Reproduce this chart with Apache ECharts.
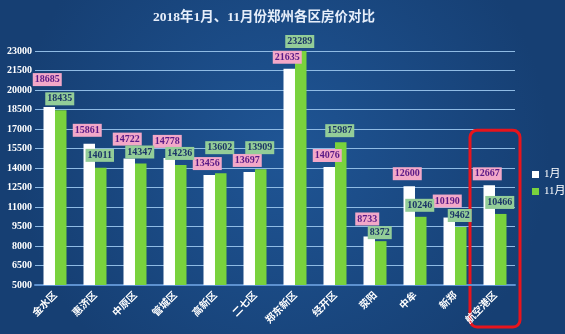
<!DOCTYPE html>
<html>
<head>
<meta charset="utf-8">
<script src="https://cdn.jsdelivr.net/npm/echarts@6/dist/echarts.min.js"></script>
<style>html,body{margin:0;padding:0;}#c{width:565px;height:334px;}</style>
</head>
<body>
<div id="c"></div>
<script>
const categories = ['金水区','惠济区','中原区','管城区','高新区','二七区','郑东新区','经开区','荥阳','中牟','新郑','航空港区'];
const jan = [18685,15861,14722,14778,13456,13697,21635,14076,8733,12600,10190,12667];
const nov = [18435,14011,14347,14236,13602,13909,23289,15987,8372,10246,9462,10466];
const yTicks = {min:5000, max:23000, step:1500};
// extra label lift (style only, px) to reproduce the reference's staggered labels
const janLift = [16,2,8,5,0,0,0,0,6,1,5,0];
const novLift = [0,1,0,0,14,10,-2,0,-3,0,0,0];

const chart = echarts.init(document.getElementById('c'));
const serif = "'Liberation Serif','DejaVu Serif','Noto Sans CJK SC',serif";
function mk(vals, lifts, dx){
  return vals.map((v,i)=>({value:v, label:{offset:[dx,-lifts[i]]}}));
}
chart.setOption({
  backgroundColor: {type:'radial', x:0.5, y:0.45, r:0.8,
    colorStops:[{offset:0,color:'#1f5595'},{offset:1,color:'#163f73'}]},
  animation:false,
  title:{text:'2018年1月、11月份郑州各区房价对比', left:148, top:6,
    textStyle:{color:'#e6eefa', fontSize:13.5, fontWeight:'bold', fontFamily:serif}},
  legend:{orient:'vertical', left:527, top:164, itemWidth:7, itemHeight:7, itemGap:6,
    icon:'rect', textStyle:{color:'#ffffff', fontSize:11, fontFamily:serif}},
  grid:{left:35, right:50, top:51, bottom:49},
  xAxis:{type:'category', data:categories,
    axisLine:{lineStyle:{color:'#5d91cf', width:2}},
    axisTick:{show:false},
    axisLabel:{rotate:45, color:'#ffffff', fontSize:10, margin:8, fontWeight:'bold', fontFamily:"'Noto Sans CJK SC',sans-serif"}},
  yAxis:{type:'value', min:yTicks.min, max:yTicks.max, interval:yTicks.step,
    axisLine:{show:false}, axisTick:{show:false},
    axisLabel:{color:'#ffffff', fontSize:10, margin:3, fontWeight:'bold', fontFamily:serif,
      formatter:function(v){return String(v);}},
    splitLine:{lineStyle:{color:'#8fbbe4', width:1}}},
  series:[
    {name:'1月', type:'bar', data:mk(jan, janLift, -2), barWidth:11.5, barGap:'0%',
      itemStyle:{color:'#ffffff'},
      label:{show:true, position:'top', distance:5, color:'#5a1a86', backgroundColor:'#f3a8c8',
        padding:[1,2], fontSize:10, lineHeight:11, fontWeight:'bold', fontFamily:serif}},
    {name:'11月', type:'bar', data:mk(nov, novLift, -1), barWidth:11.5,
      itemStyle:{color:'#79d23d'},
      label:{show:true, position:'top', distance:5, color:'#1b3566', backgroundColor:'#93cd98',
        padding:[1,2], fontSize:10, lineHeight:11, fontWeight:'bold', fontFamily:serif}}
  ]
});
// red highlight frame around the last category, placed via the axis scales
const last = categories[categories.length-1];
const pTop = chart.convertToPixel({gridIndex:0}, [last, 16900]);
const pBot = chart.convertToPixel({gridIndex:0}, [last, yTicks.min]);
const half = 25;
chart.setOption({graphic:[{type:'rect', shape:{x:pTop[0]-half, y:pTop[1], width:half*2, height:pBot[1]-pTop[1]+42, r:7},
  style:{fill:'none', stroke:'#e8141c', lineWidth:3}}]});
</script>
</body>
</html>
